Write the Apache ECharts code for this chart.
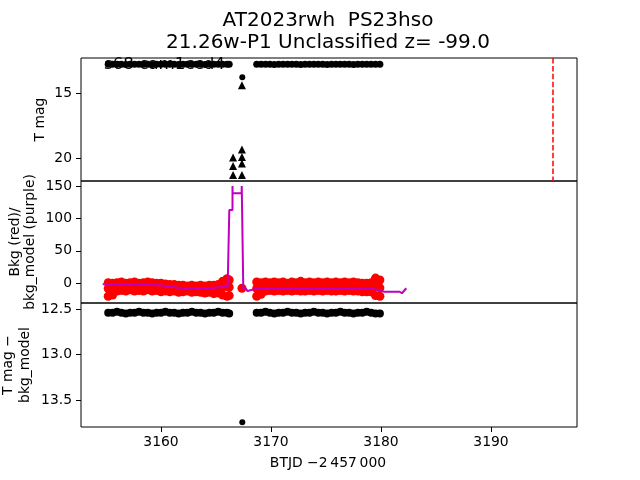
<!DOCTYPE html>
<html><head><meta charset="utf-8">
<script src="https://cdn.jsdelivr.net/npm/echarts@6/dist/echarts.min.js"></script>
<style>html,body{margin:0;padding:0;background:#fff}#c{width:640px;height:480px}</style>
</head><body><div id="c"></div>
<script>
// ---- data ----
const timeLeft = [3155.2,3155.6,3156.0,3156.4,3156.8,3157.2,3157.6,3158.0,3158.4,3158.8,3159.2,3159.6,3160.0,3160.4,3160.8,3161.2,3161.6,3162.0,3162.4,3162.8,3163.2,3163.6,3164.0,3164.4,3164.8,3165.2,3165.6,3166.0,3166.2];
const timeRight = [3168.7,3169.1,3169.5,3169.9,3170.3,3170.7,3171.1,3171.5,3171.9,3172.3,3172.7,3173.1,3173.5,3173.9,3174.3,3174.7,3175.1,3175.5,3175.9,3176.3,3176.7,3177.1,3177.5,3177.9,3178.3,3178.7,3179.1,3179.5,3179.9];
const tmagLeft = [12.77,12.77,12.76,12.77,12.78,12.77,12.77,12.76,12.77,12.77,12.78,12.77,12.77,12.76,12.77,12.77,12.78,12.77,12.77,12.76,12.77,12.77,12.78,12.77,12.77,12.76,12.77,12.77,12.77];
const tmagRight = [12.77,12.77,12.76,12.77,12.78,12.77,12.77,12.76,12.77,12.77,12.78,12.77,12.77,12.76,12.77,12.77,12.78,12.77,12.77,12.76,12.77,12.77,12.78,12.77,12.77,12.76,12.77,12.77,12.77];
const diffLeft = [12.54,12.54,12.53,12.54,12.55,12.54,12.54,12.53,12.54,12.54,12.55,12.54,12.54,12.53,12.54,12.54,12.55,12.54,12.54,12.53,12.54,12.54,12.55,12.54,12.54,12.53,12.54,12.54,12.55];
const diffRight = [12.54,12.54,12.53,12.54,12.55,12.54,12.54,12.53,12.54,12.54,12.55,12.54,12.54,12.53,12.54,12.54,12.55,12.54,12.54,12.53,12.54,12.54,12.55,12.54,12.54,12.53,12.54,12.55,12.55];
const bkgHiLeft = [1,0,1,2,0,1,2,0,1,2,1,0,0,-1,-2,-2,-3,-3,-4,-3,-4,-3,-4,-3,-3,-2,3,7,5];
const bkgMidLeft = [-8,-6,-5,-4,-6,-5,-4,-6,-5,-4,-5,-6,-6,-7,-7,-8,-8,-7,-8,-9,-8,-9,-9,-8,-9,-8,-6,-5,-6];
const bkgLoLeft = [-20,-18,-12,-11,-12,-10,-12,-11,-12,-10,-12,-11,-13,-12,-13,-12,-14,-13,-12,-14,-13,-14,-15,-14,-16,-15,-18,-20,-19];
const bkgHiRight = [2,1,2,1,2,1,2,0,2,1,3,1,2,1,2,1,2,1,2,1,2,1,2,1,0,0,1,8,5];
const bkgMidRight = [-8,-7,-5,-5,-6,-5,-5,-6,-5,-5,-4,-5,-5,-6,-5,-5,-5,-6,-5,-5,-5,-6,-5,-5,-6,-7,-6,-5,-7];
const bkgLoRight = [-20,-17,-12,-11,-12,-11,-12,-11,-12,-11,-12,-12,-11,-12,-11,-12,-11,-12,-12,-11,-12,-11,-12,-12,-13,-13,-13,-19,-20];
const bkgModelT = [3154.7,3157.1,3158.5,3160.15,3161.97,3164.1,3166.06,3166.2,3166.21,3166.5,3166.5,3166.51,3167.33,3167.34,3167.48,3167.7,3167.87,3168.5,3172.0,3176.0,3179.4,3180.3,3181.7,3181.9,3182.3];
const bkgModelV = [-1.5,-1,-2,-3.6,-7.7,-7.7,-5.2,-4,113,113,150,139,139,150,-7.7,-8,-12,-9,-8,-9,-9,-13,-13,-15.4,-7.7];
const bkgOutT = [3167.36];
const bkgOutV = [-7.7];
const detT = [3167.39];
const detMag = [13.77];
const limT = [3167.36,3166.55,3166.55,3166.55,3167.36,3167.36,3167.36,3167.36];
const limMag = [14.38,19.93,20.6,21.28,19.33,19.9,20.4,21.28];
const diffOutT = [3167.39];
const diffOutV = [13.745];
const discoveryT = [3195.61];
const xTicks = [3160,3170,3180,3190];
const tmagTicks = [15,20];
const bkgTicks = [0,50,100,150];
const diffTicks = [12.5,13.0,13.5];

const zip = (a,b) => a.map((v,i)=>[v,b[i]]);
const FONT = 'DejaVu Sans';
const GL = 81, GW = 496;
const xMin = 3160 - 80/11, xMax = xMin + 496/11;

function xAx(i, labels){
  return {type:'value', gridIndex:i, min:xMin, max:xMax,
    axisLine:{show:false}, splitLine:{show:false},
    axisTick:{show:labels, customValues:xTicks, length:5, lineStyle:{color:'#000',width:1}},
    axisLabel:{show:labels, customValues:xTicks, color:'#000', fontFamily:FONT, fontSize:13.9, margin:8, formatter:v=>String(v)}};
}
function yAx(i, min, max, inv, ticks, fmt){
  return {type:'value', gridIndex:i, min:min, max:max, inverse:inv,
    axisLine:{show:false}, splitLine:{show:false},
    axisTick:{show:true, customValues:ticks, length:5, lineStyle:{color:'#000',width:1}},
    axisLabel:{show:true, customValues:ticks, color:'#000', fontFamily:FONT, fontSize:13.9, margin:9, formatter:fmt}};
}
const border = {show:true, borderColor:'#000', borderWidth:1, backgroundColor:'transparent'};
const solid = c => ({color:c, opacity:1});

const option = {
  animation:false,
  grid:[
    Object.assign({left:GL, width:GW, top:58, height:123}, border),
    Object.assign({left:GL, width:GW, top:181, height:122}, border),
    Object.assign({left:GL, width:GW, top:303, height:124}, border)
  ],
  xAxis:[xAx(0,false), xAx(1,false), xAx(2,true)],
  yAxis:[
    yAx(0, 12.285, 21.746, true, tmagTicks, v=>String(v)),
    yAx(1, -30.4, 157.7, false, bkgTicks, v=>String(v)),
    yAx(2, 12.434, 13.797, true, diffTicks, v=>v.toFixed(1))
  ],
  graphic:[
    {type:'text', x:328, y:21, z:10, style:{text:'AT2023rwh  PS23hso', font:'20px "DejaVu Sans"', fill:'#000', align:'center', verticalAlign:'middle'}},
    {type:'text', x:328, y:43, z:10, style:{text:'21.26w-P1 Unclassified z= -99.0', font:'20px "DejaVu Sans"', fill:'#000', align:'center', verticalAlign:'middle'}},
    {type:'text', x:104, y:65, z:0, style:{text:'s68 cam1ccd4', font:'16.67px "DejaVu Sans"', fill:'#000', align:'left', verticalAlign:'middle'}},
    {type:'text', x:40, y:119.5, rotation:Math.PI/2, style:{text:'T mag', font:'13.9px "DejaVu Sans"', fill:'#000', align:'center', verticalAlign:'middle'}},
    {type:'text', x:23, y:242, rotation:Math.PI/2, style:{text:'Bkg (red)/\nbkg_model (purple)', font:'13.9px "DejaVu Sans"', lineHeight:15, fill:'#000', align:'center', verticalAlign:'middle'}},
    {type:'text', x:17, y:365, rotation:Math.PI/2, style:{text:'T mag \u2212\nbkg_model', font:'13.9px "DejaVu Sans"', lineHeight:17, fill:'#000', align:'center', verticalAlign:'middle'}},
    {type:'text', x:328, y:463, style:{text:'BTJD \u22122\u2009457\u2009000', font:'13.9px "DejaVu Sans"', fill:'#000', align:'center', verticalAlign:'middle'}}
  ],
  series:[
    {type:'scatter', xAxisIndex:0, yAxisIndex:0, symbol:'circle', symbolSize:7, itemStyle:solid('#000'), z:3,
      data: zip(timeLeft.concat(timeRight), tmagLeft.concat(tmagRight)),
      markLine:{silent:true, symbol:'none', label:{show:false}, lineStyle:{color:'#ff0000', width:1.5, type:[5.5,2.4], opacity:1}, data: discoveryT.map(t=>({xAxis:t}))}},
    {type:'scatter', xAxisIndex:0, yAxisIndex:0, symbol:'circle', symbolSize:6, itemStyle:solid('#000'), z:3, data: zip(detT, detMag)},
    {type:'scatter', xAxisIndex:0, yAxisIndex:0, symbol:'triangle', symbolSize:[8,8], itemStyle:solid('#000'), z:3, data: zip(limT, limMag)},
    {type:'scatter', xAxisIndex:1, yAxisIndex:1, symbol:'circle', symbolSize:9, itemStyle:solid('#ff0000'), z:2,
      data: zip(timeLeft, bkgHiLeft).concat(zip(timeLeft, bkgMidLeft), zip(timeLeft, bkgLoLeft), zip(timeRight, bkgHiRight), zip(timeRight, bkgMidRight), zip(timeRight, bkgLoRight), zip(bkgOutT, bkgOutV))},
    {type:'line', xAxisIndex:1, yAxisIndex:1, showSymbol:false, symbol:'none', lineStyle:{color:'#bf00bf', width:2}, z:4, data: zip(bkgModelT, bkgModelV)},
    {type:'scatter', xAxisIndex:2, yAxisIndex:2, symbol:'circle', symbolSize:8, itemStyle:solid('#000'), z:3,
      data: zip(timeLeft.concat(timeRight), diffLeft.concat(diffRight))},
    {type:'scatter', xAxisIndex:2, yAxisIndex:2, symbol:'circle', symbolSize:6, itemStyle:solid('#000'), z:3, data: zip(diffOutT, diffOutV)}
  ]
};
const chart = echarts.init(document.getElementById('c'), null, {renderer:'canvas'});
chart.setOption(option);
</script></body></html>
